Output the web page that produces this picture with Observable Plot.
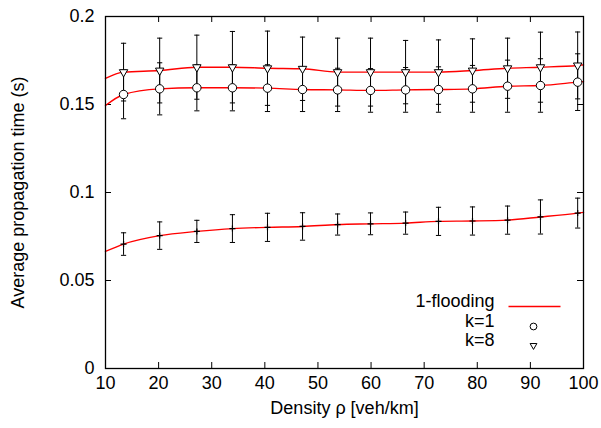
<!DOCTYPE html>
<html>
<head>
<meta charset="utf-8">
<script src="https://cdn.jsdelivr.net/npm/d3@7"></script>
<script src="https://cdn.jsdelivr.net/npm/@observablehq/plot@0.6"></script>
<style>
  html, body { margin: 0; padding: 0; background: white; }
  #chart { width: 601px; height: 428px; }
</style>
</head>
<body>
<div id="chart"></div>
<script>
// ---- data ----
const density = [13.4, 20.2, 27.2, 33.9, 40.5, 47.1, 53.7, 59.9, 66.5, 72.7, 79.1, 85.7, 91.9, 98.9];

const floodY   = [0.0707, 0.0755, 0.0779, 0.0795, 0.0802, 0.0807, 0.0818, 0.0822, 0.0826, 0.0836, 0.0838, 0.0843, 0.0861, 0.0883];
const floodErr = [0.0064, 0.0078, 0.0063, 0.0079, 0.0080, 0.0078, 0.0060, 0.0062, 0.0063, 0.0080, 0.0080, 0.0080, 0.0097, 0.0085];

const k1Y   = [0.1557, 0.1589, 0.1595, 0.1595, 0.1593, 0.1585, 0.1583, 0.1580, 0.1583, 0.1585, 0.1589, 0.1604, 0.1608, 0.1627];
const k1Err = [0.0138, 0.0148, 0.0131, 0.0131, 0.0133, 0.0125, 0.0123, 0.0124, 0.0127, 0.0129, 0.0133, 0.0148, 0.0152, 0.0161];

const k8Y   = [0.1684, 0.1693, 0.1712, 0.1712, 0.1706, 0.1703, 0.1684, 0.1684, 0.1684, 0.1684, 0.1693, 0.1706, 0.1712, 0.1722];
const k8Err = [0.0164, 0.0184, 0.0182, 0.0203, 0.0211, 0.0180, 0.0193, 0.0193, 0.0180, 0.0183, 0.0180, 0.0171, 0.0199, 0.0190];

// fitted red curves extend to the edges of the x range
const fitEdgeX  = [10, 100];
const floodEdge = [0.0665, 0.0887];
const k1Edge    = [0.1494, 0.1630];
const k8Edge    = [0.1648, 0.1725];

const xTicks = [10, 20, 30, 40, 50, 60, 70, 80, 90, 100];
const yTicks = [0, 0.05, 0.1, 0.15, 0.2];

const seriesNames = ["1-flooding", "k=1", "k=8"];
const xLabel = "Density ρ [veh/km]";
const yLabel = "Average propagation time (s)";

// ---- build tables ----
const pts = (ys, es) => density.map((x, i) => ({x, y: ys[i], e: es[i]}));
const flood = pts(floodY, floodErr);
const k1 = pts(k1Y, k1Err);
const k8 = pts(k8Y, k8Err);
const fit = (ys, edge) => [{x: fitEdgeX[0], y: edge[0]}, ...density.map((x, i) => ({x, y: ys[i]})), {x: fitEdgeX[1], y: edge[1]}];

// ---- custom symbols ----
const capSymbol = {draw(ctx, size) { const r = Math.sqrt(size / Math.PI); ctx.moveTo(-r, 0); ctx.lineTo(r, 0); }};
const plusSymbol = {draw(ctx, size) { const r = Math.sqrt(size / Math.PI); ctx.moveTo(-r, 0); ctx.lineTo(r, 0); ctx.moveTo(0, -r); ctx.lineTo(0, r); }};
const triDown = {draw(ctx, size) { const s = Math.sqrt(size / Math.PI); ctx.moveTo(-s, -0.58 * s); ctx.lineTo(s, -0.58 * s); ctx.lineTo(0, 1.15 * s); ctx.closePath(); }};
const legendLine = {draw(ctx, size) { const r = Math.sqrt(size / Math.PI); ctx.moveTo(-r, 0); ctx.lineTo(r, 0); }};

const W = 601, H = 428, ML = 105, MR = 18, MT = 16, MB = 60;
const FW = W - ML - MR, FH = H - MT - MB, TL = 6;
const FS = 18;

const errMarks = (data) => [
  Plot.ruleX(data, {x: "x", y1: d => d.y - d.e, y2: d => d.y + d.e, stroke: "black", strokeWidth: 1}),
  Plot.dot(data, {x: "x", y: d => d.y + d.e, r: 2.6, symbol: capSymbol, stroke: "black", strokeWidth: 1, fill: "none"}),
  Plot.dot(data, {x: "x", y: d => d.y - d.e, r: 2.6, symbol: capSymbol, stroke: "black", strokeWidth: 1, fill: "none"})
];

const chart = Plot.plot({
  width: W, height: H,
  marginLeft: ML, marginRight: MR, marginTop: MT, marginBottom: MB,
  style: {fontFamily: "'Liberation Sans', Arial, Helvetica, sans-serif", fontSize: FS + "px", background: "white", color: "black", overflow: "visible"},
  x: {domain: [10, 100]},
  y: {domain: [0, 0.2]},
  marks: [
    // inward ticks on all four sides
    Plot.tickX(xTicks, {x: d => d, insetTop: FH - TL, stroke: "black"}),
    Plot.tickX(xTicks, {x: d => d, insetBottom: FH - TL, stroke: "black"}),
    Plot.tickY(yTicks, {y: d => d, insetRight: FW - TL, stroke: "black"}),
    Plot.tickY(yTicks, {y: d => d, insetLeft: FW - TL, stroke: "black"}),
    Plot.axisX({ticks: xTicks, tickSize: 0, tickPadding: 8, label: null, fontSize: FS}),
    Plot.axisY({ticks: yTicks, tickSize: 0, tickPadding: 11, label: null, fontSize: FS, tickFormat: d => String(d)}),
    // axis titles
    Plot.text([xLabel], {text: d => d, frameAnchor: "bottom", dy: 45, textAnchor: "middle", fontSize: FS}),
    Plot.text([yLabel], {text: d => d, frameAnchor: "left", dx: -87, rotate: -90, textAnchor: "middle", fontSize: FS}),
    // red fitted curves
    Plot.line(fit(floodY, floodEdge), {x: "x", y: "y", stroke: "#ff0000", strokeWidth: 1.4, curve: "monotone-x"}),
    Plot.line(fit(k1Y, k1Edge), {x: "x", y: "y", stroke: "#ff0000", strokeWidth: 1.4, curve: "monotone-x"}),
    Plot.line(fit(k8Y, k8Edge), {x: "x", y: "y", stroke: "#ff0000", strokeWidth: 1.4, curve: "monotone-x"}),
    // error bars
    ...errMarks(flood),
    ...errMarks(k1),
    ...errMarks(k8),
    // markers
    Plot.dot(flood, {x: "x", y: "y", r: 3, symbol: plusSymbol, stroke: "black", strokeWidth: 1.2, fill: "none"}),
    Plot.dot(k1, {x: "x", y: "y", r: 4.2, symbol: "circle", stroke: "black", strokeWidth: 1, fill: "white"}),
    Plot.dot(k8, {x: "x", y: "y", r: 4.2, symbol: triDown, stroke: "black", strokeWidth: 1, fill: "white"}),
    // legend (inside frame, bottom-right)
    Plot.text([seriesNames[0]], {text: d => d, frameAnchor: "bottom-right", dx: -89, dy: -62, textAnchor: "end", fontSize: FS}),
    Plot.text([seriesNames[1]], {text: d => d, frameAnchor: "bottom-right", dx: -89, dy: -42, textAnchor: "end", fontSize: FS}),
    Plot.text([seriesNames[2]], {text: d => d, frameAnchor: "bottom-right", dx: -89, dy: -23, textAnchor: "end", fontSize: FS}),
    Plot.dot([0], {frameAnchor: "bottom-right", dx: -49, dy: -62, r: 26, symbol: legendLine, stroke: "#ff0000", strokeWidth: 1.4, fill: "none"}),
    Plot.dot([0], {frameAnchor: "bottom-right", dx: -50, dy: -42, r: 3.4, symbol: "circle", stroke: "black", strokeWidth: 1, fill: "white"}),
    Plot.dot([0], {frameAnchor: "bottom-right", dx: -50, dy: -23, r: 3.4, symbol: triDown, stroke: "black", strokeWidth: 1, fill: "white"}),
    Plot.frame({stroke: "black", strokeWidth: 1.3})
  ]
});
document.getElementById("chart").appendChild(chart);
</script>
</body>
</html>
